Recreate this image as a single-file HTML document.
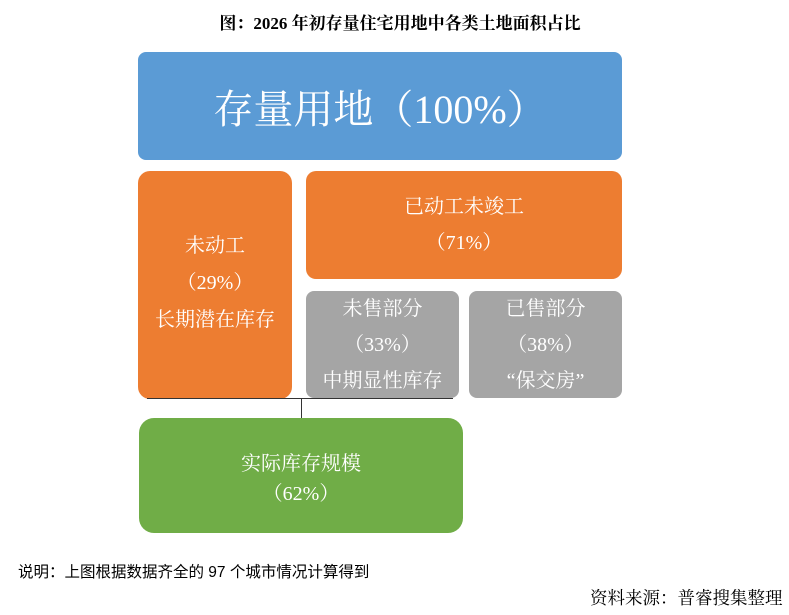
<!DOCTYPE html>
<html><head><meta charset="utf-8"><style>
body{margin:0;width:789px;height:615px;background:#fff;position:relative;overflow:hidden;font-family:"Liberation Serif","Noto Serif CJK SC",serif}
.b{position:absolute;color:#fff;text-align:center;display:flex;flex-direction:column;justify-content:center;align-items:center}
.t{position:absolute;white-space:nowrap}
</style></head><body>
<div class="t" style="left:0;width:800px;top:9px;text-align:center;font-weight:bold;font-size:17px;">图：2026 年初存量住宅用地中各类土地面积占比</div>
<div class="b" style="left:138px;top:52px;width:484px;height:108px;background:#5b9bd5;border-radius:8px;font-size:40px;">存量用地（100%）</div>
<div class="b" style="left:138px;top:171px;width:154px;height:228px;background:#ed7d31;border-radius:12px;font-size:20px;line-height:37px;padding-bottom:4px;box-sizing:border-box">未动工<br>（29%）<br>长期潜在库存</div>
<div class="b" style="left:306px;top:171px;width:316px;height:108px;background:#ed7d31;border-radius:10px;font-size:20px;line-height:36px;">已动工未竣工<br>（71%）</div>
<div class="b" style="left:306px;top:291px;width:153px;height:107px;background:#a5a5a5;border-radius:8px;font-size:20px;line-height:36px;">未售部分<br>（33%）<br>中期显性库存</div>
<div class="b" style="left:469px;top:291px;width:153px;height:107px;background:#a5a5a5;border-radius:8px;font-size:20px;line-height:36px;">已售部分<br>（38%）<br>“保交房”</div>
<div style="position:absolute;left:147px;top:398px;width:306px;height:1px;background:#333"></div>
<div style="position:absolute;left:301px;top:398px;width:1px;height:20px;background:#333"></div>
<div class="b" style="left:139px;top:418px;width:324px;height:115px;background:#70ad47;border-radius:15px;font-size:20px;line-height:30px;padding-top:6px;box-sizing:border-box">实际库存规模<br>（62%）</div>
<div class="t" style="left:18px;top:560px;font-size:15.5px;font-family:'Liberation Sans','Noto Sans CJK SC',sans-serif">说明：上图根据数据齐全的 97 个城市情况计算得到</div>
<div class="t" style="left:590px;top:585px;font-size:17.5px;">资料来源：普睿搜集整理</div>
</body></html>
